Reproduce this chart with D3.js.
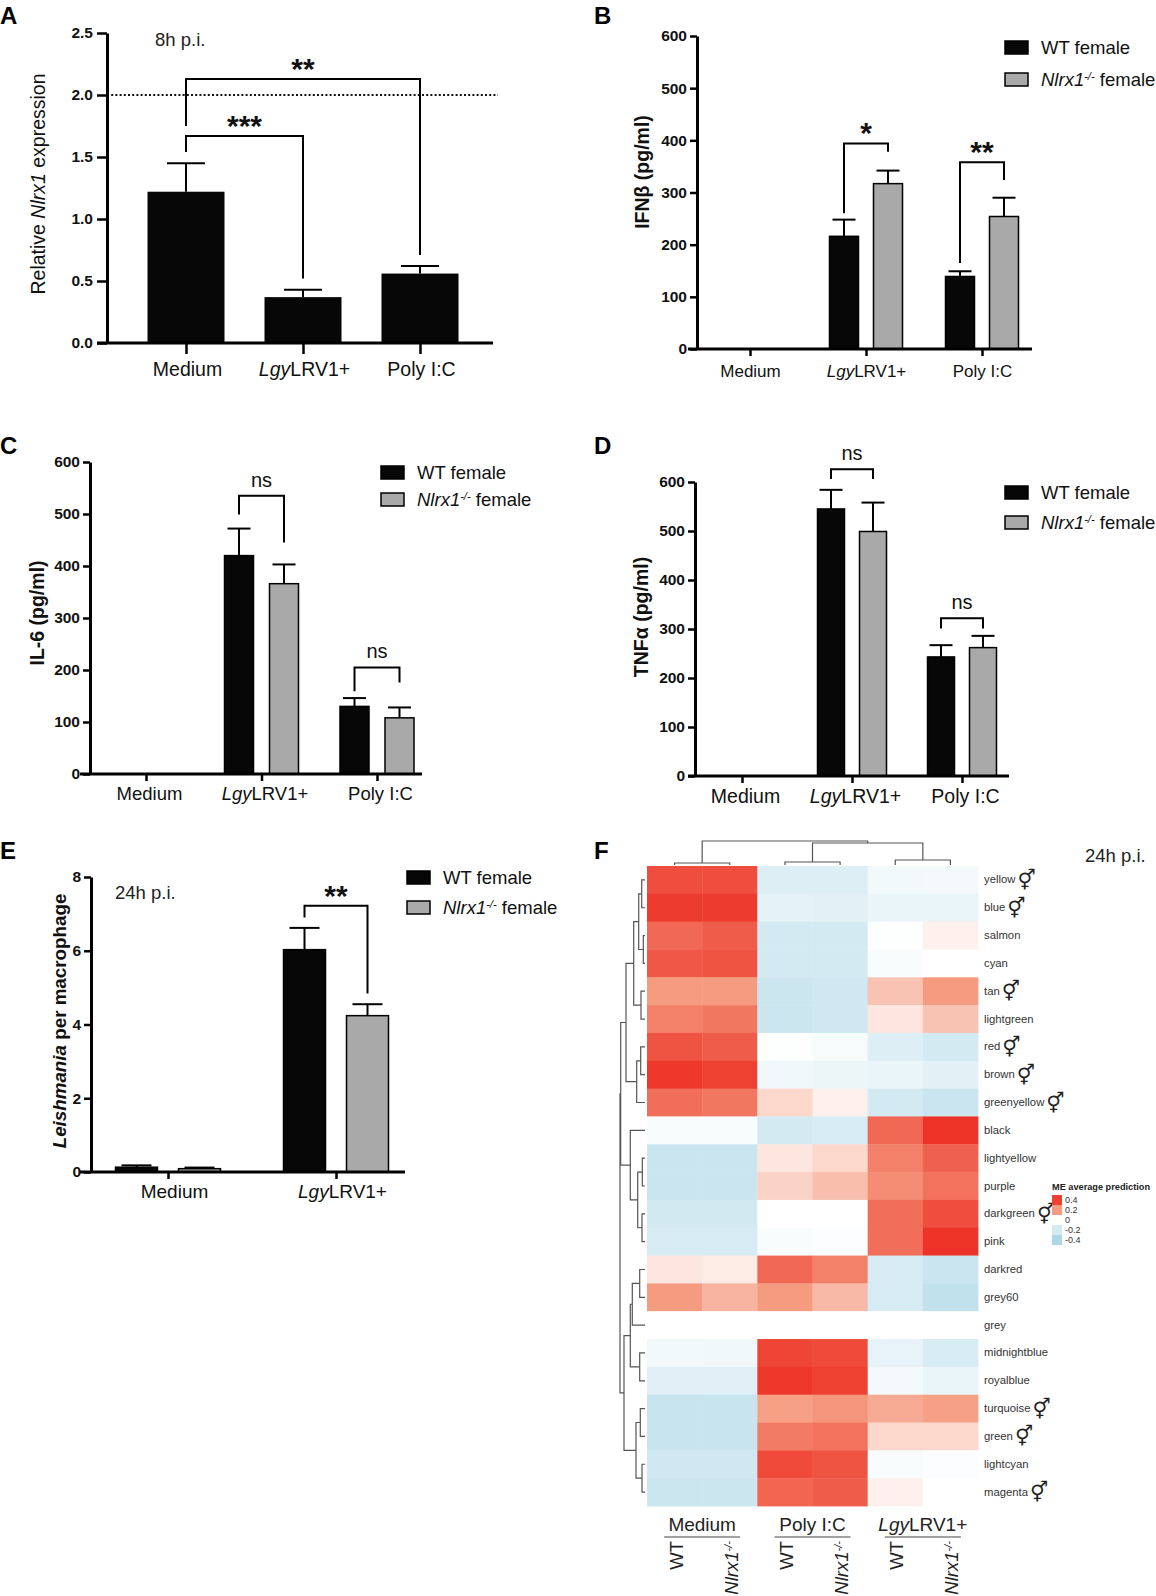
<!DOCTYPE html>
<html>
<head>
<meta charset="utf-8">
<script src="https://cdn.jsdelivr.net/npm/d3@7"></script>
<style>
  body { margin: 0; background: #fff; }
  svg { display: block; }
</style>
</head>
<body>
<div id="chart"></div>
<script>
// ---------- data ----------
// A: relative Nlrx1 expression, 8h p.i.
var groupsA = ['Medium', 'LgyLRV1+', 'Poly I:C'];
var nlrx1Rel = [1.22, 0.37, 0.56];
var nlrx1Sem = [0.23, 0.06, 0.06];
var ticksA = [0, 0.5, 1.0, 1.5, 2.0, 2.5];

// B-D: cytokines (pg/ml)
var groupsCyto = ['Medium', 'LgyLRV1+', 'Poly I:C'];
var ticksCyto = [0, 100, 200, 300, 400, 500, 600];
var ifnbWT = [0, 216, 139];
var ifnbWTsem = [0, 32, 10];
var ifnbKO = [0, 317, 254];
var ifnbKOsem = [0, 25, 36];
var il6WT = [0, 420, 130];
var il6WTsem = [0, 52, 16];
var il6KO = [0, 366, 108];
var il6KOsem = [0, 37, 20];
var tnfWT = [0, 545, 243];
var tnfWTsem = [0, 39, 24];
var tnfKO = [0, 499, 262];
var tnfKOsem = [0, 59, 24];

// E: parasites per macrophage, 24h p.i.
var groupsE = ['Medium', 'LgyLRV1+'];
var ticksE = [0, 2, 4, 6, 8];
var leishWT = [0.13, 6.03];
var leishWTsem = [0.05, 0.59];
var leishKO = [0.09, 4.24];
var leishKOsem = [0.03, 0.31];

// significance brackets (data units)
var sigA = [
    {from: 0, to: 1, top: 1.67, endFrom: 1.54, endTo: 0.52, label: '***'},
    {from: 0, to: 2, top: 2.13, endFrom: 1.75, endTo: 0.71, label: '**'}
];
var sigB = [
    {group: 1, top: 394, endWT: 260, endKO: 378, label: '*'},
    {group: 2, top: 358, endWT: 165, endKO: 324, label: '**'}
];
var sigC = [
    {group: 1, top: 535, endWT: 499, endKO: 445, label: 'ns'},
    {group: 2, top: 205, endWT: 159, endKO: 176, label: 'ns'}
];
var sigD = [
    {group: 1, top: 626, endWT: 606, endKO: 606, label: 'ns'},
    {group: 2, top: 322, endWT: 301, endKO: 301, label: 'ns'}
];
var sigE = [
    {group: 1, top: 7.22, endWT: 6.9, endKO: 4.84, label: '**'}
];

// F: module eigengene average prediction
var modules = ['yellow', 'blue', 'salmon', 'cyan', 'tan', 'lightgreen', 'red', 'brown',
    'greenyellow', 'black', 'lightyellow', 'purple', 'darkgreen', 'pink', 'darkred', 'grey60',
    'grey', 'midnightblue', 'royalblue', 'turquoise', 'green', 'lightcyan', 'magenta'];
var sexModules = ['yellow', 'blue', 'tan', 'red', 'brown', 'greenyellow', 'darkgreen',
    'turquoise', 'green', 'magenta'];
var heatGroups = ['Medium', 'Poly I:C', 'LgyLRV1+'];
var medWT  = [0.37, 0.41, 0.31, 0.35, 0.20, 0.26, 0.36, 0.42, 0.30, -0.03, -0.25, -0.25, -0.21, -0.19, 0.05, 0.20, 0, -0.06, -0.14, -0.26, -0.26, -0.22, -0.24];
var medKO  = [0.37, 0.41, 0.34, 0.36, 0.20, 0.28, 0.34, 0.40, 0.28, -0.03, -0.25, -0.25, -0.21, -0.19, 0.04, 0.15, 0, -0.07, -0.15, -0.26, -0.26, -0.22, -0.24];
var polyWT = [-0.16, -0.12, -0.20, -0.20, -0.24, -0.24, -0.01, -0.07, 0.08, -0.20, 0.05, 0.09, 0.00, -0.03, 0.31, 0.20, 0, 0.39, 0.42, 0.19, 0.27, 0.38, 0.32];
var polyKO = [-0.16, -0.13, -0.20, -0.20, -0.22, -0.22, -0.04, -0.09, 0.03, -0.18, 0.08, 0.13, 0.00, -0.02, 0.26, 0.14, 0, 0.38, 0.40, 0.21, 0.29, 0.36, 0.34];
var lgyWT  = [-0.06, -0.10, -0.01, -0.03, 0.12, 0.05, -0.16, -0.10, -0.20, 0.31, 0.26, 0.23, 0.30, 0.30, -0.19, -0.19, 0, -0.11, -0.05, 0.17, 0.08, -0.03, 0.03];
var lgyKO  = [-0.05, -0.10, 0.03, 0.00, 0.20, 0.12, -0.20, -0.13, -0.25, 0.43, 0.33, 0.29, 0.37, 0.43, -0.25, -0.30, 0, -0.18, -0.10, 0.19, 0.08, -0.02, 0.00];
var legendVals = [0.4, 0.2, 0, -0.2, -0.4];

// clustering trees (leaf = column / row index, h = merge height)
var colTree = {h: 24, c: [{h: 2, c: [0, 1]}, {h: 22, c: [{h: 3, c: [2, 3]}, {h: 5, c: [4, 5]}]}]};
var rowTree = {h: 25, c: [
    {h: 24.3, c: [
        {h: 19, c: [
            {h: 11.3, c: [{h: 6.3, c: [{h: 3.3, c: [0, 1]}, {h: 1.7, c: [2, 3]}]}, {h: 4, c: [4, 5]}]},
            {h: 8.3, c: [{h: 4.3, c: [6, 7]}, 8]}
        ]},
        {h: 14.7, c: [9, {h: 7.3, c: [{h: 2.7, c: [10, 11]}, {h: 3, c: [12, 13]}]}]}
    ]},
    {h: 21, c: [
        {h: 14.7, c: [{h: 12.7, c: [{h: 5.3, c: [14, 15]}, 16]}, {h: 5.3, c: [17, 18]}]},
        {h: 9, c: [{h: 4.7, c: [19, 20]}, {h: 3, c: [21, 22]}]}
    ]}
]};

// ---------- setup ----------
var FONT = '"Liberation Sans", Arial, Helvetica, sans-serif';
var svg = d3.select('#chart').append('svg')
    .attr('width', 1156).attr('height', 1596)
    .attr('font-family', FONT).attr('fill', '#111');
svg.append('rect').attr('width', 1156).attr('height', 1596).attr('fill', '#fff');

function panelLetter(txt, x, y) {
    svg.append('text').attr('x', x).attr('y', y)
        .attr('font-size', 24).attr('font-weight', 'bold').attr('fill', '#000').text(txt);
}

// "Lgy" is written in italics
function addLabel(sel, label) {
    if (label.indexOf('Lgy') === 0) {
        sel.append('tspan').attr('font-style', 'italic').text('Lgy');
        sel.append('tspan').text(label.slice(3));
    } else {
        sel.text(label);
    }
}

// Nlrx1 with superscript -/-
function addKO(sel, rest) {
    sel.append('tspan').attr('font-style', 'italic').text('Nlrx1');
    sel.append('tspan').attr('font-style', 'italic').attr('font-size', '0.6em').attr('dy', '-0.55em').text('-/-');
    if (rest) sel.append('tspan').attr('dy', '0.33em').text(rest);
}

function drawYAxis(g, y, x, ticks, fmt, tick, pad) {
    var ax = g.append('g').attr('transform', 'translate(' + x + ',0)')
        .call(d3.axisLeft(y).tickValues(ticks).tickFormat(fmt)
            .tickSize(tick).tickSizeOuter(0).tickPadding(pad));
    ax.attr('font-family', null).attr('font-size', null);
    ax.select('.domain').attr('stroke', '#000').attr('stroke-width', 3);
    ax.selectAll('.tick line').attr('stroke', '#000').attr('stroke-width', 2.5);
    ax.selectAll('.tick text').attr('font-size', 15.5).attr('font-weight', 'bold').attr('fill', '#111');
}

function drawXAxis(g, x, yPix, ext, fontSize, tick, pad, dx) {
    g.append('line')
        .attr('x1', ext[0]).attr('x2', ext[1]).attr('y1', yPix).attr('y2', yPix)
        .attr('stroke', '#000').attr('stroke-width', 3);
    var ax = g.append('g').attr('transform', 'translate(0,' + yPix + ')')
        .call(d3.axisBottom(x).tickSize(tick).tickSizeOuter(0).tickPadding(pad));
    ax.attr('font-family', null).attr('font-size', null);
    ax.select('.domain').remove();
    ax.selectAll('.tick line').attr('stroke', '#000').attr('stroke-width', 2.5);
    ax.selectAll('.tick text').attr('font-size', fontSize).attr('fill', '#111').attr('dx', dx || 0)
        .each(function(d) {
            var t = d3.select(this);
            t.text(null);
            addLabel(t, d);
        });
}

function errorBar(g, cx, yv, ye, cap) {
    g.append('line').attr('x1', cx).attr('x2', cx).attr('y1', yv).attr('y2', ye)
        .attr('stroke', '#000').attr('stroke-width', 2);
    g.append('line').attr('x1', cx - cap / 2).attr('x2', cx + cap / 2).attr('y1', ye).attr('y2', ye)
        .attr('stroke', '#000').attr('stroke-width', 2);
}

function bracket(g, xa, ya, yTop, xb, yb) {
    g.append('path')
        .attr('d', 'M' + xa + ',' + ya + 'V' + yTop + 'H' + xb + 'V' + yb)
        .attr('fill', 'none').attr('stroke', '#000').attr('stroke-width', 2);
}

function sigText(g, x, yTop, label) {
    var isStar = label.indexOf('*') === 0;
    g.append('text').attr('x', x)
        .attr('y', isStar ? yTop : yTop - 9)
        .attr('text-anchor', 'middle')
        .attr('font-size', isStar ? 30 : 20)
        .attr('font-weight', isStar ? 'bold' : 'normal')
        .attr('fill', '#111')
        .text(label);
}

function yTitle(g, x, y, size, bold, build) {
    var t = g.append('text')
        .attr('transform', 'translate(' + x + ',' + y + ') rotate(-90)')
        .attr('text-anchor', 'middle').attr('font-size', size)
        .attr('font-weight', bold ? 'bold' : 'normal').attr('fill', '#111');
    build(t);
}

function seriesLegend(g, x, tops) {
    var fills = ['#070707', '#a9a9a9'];
    tops.forEach(function(t, i) {
        g.append('rect').attr('x', x).attr('y', t).attr('width', 23).attr('height', 13)
            .attr('fill', fills[i]).attr('stroke', '#000').attr('stroke-width', 1.5);
        var txt = g.append('text').attr('x', x + 36).attr('y', t + 13)
            .attr('font-size', 18.5).attr('fill', '#111');
        if (i === 0) txt.text('WT female');
        else addKO(txt, '\u00a0female');
    });
}

// ---------- panel A ----------
(function() {
    var g = svg.append('g');
    var y = d3.scaleLinear().domain([0, 2.5]).range([343, 33]);
    var x = d3.scalePoint().domain(groupsA).range([186, 420]);
    var bw = 77;

    g.selectAll('rect.bar').data(nlrx1Rel).enter().append('rect')
        .attr('x', function(d, i) { return x(groupsA[i]) - bw / 2; })
        .attr('width', bw)
        .attr('y', function(d) { return y(d); })
        .attr('height', function(d) { return y(0) - y(d); })
        .attr('fill', '#070707');
    nlrx1Rel.forEach(function(v, i) {
        errorBar(g, x(groupsA[i]), y(v), y(v + nlrx1Sem[i]), 38);
    });

    // dotted threshold line
    g.append('line').attr('x1', 107).attr('x2', 498).attr('y1', y(2)).attr('y2', y(2))
        .attr('stroke', '#111').attr('stroke-width', 1.8).attr('stroke-dasharray', '2,2.2');

    drawXAxis(g, x, y(0), [97, 493], 19.5, 11, 8, 1);
    drawYAxis(g, y, 107, ticksA, d3.format('.1f'), 10, 4);

    sigA.forEach(function(b) {
        var xa = x(groupsA[b.from]), xb = x(groupsA[b.to]);
        bracket(g, xa, y(b.endFrom), y(b.top), xb, y(b.endTo));
        sigText(g, (xa + xb) / 2, y(b.top), b.label);
    });

    g.append('text').attr('x', 155).attr('y', 46).attr('font-size', 18.5).attr('fill', '#222').text('8h p.i.');
    yTitle(g, 45, 184, 19.5, false, function(t) {
        t.append('tspan').text('Relative ');
        t.append('tspan').attr('font-style', 'italic').text('Nlrx1');
        t.append('tspan').text(' expression');
    });
    panelLetter('A', 0, 24);
})();

// ---------- grouped panels B-E ----------
function groupedPanel(o) {
    var g = svg.append('g');
    var y = d3.scaleLinear().domain([0, o.max]).range([o.y0, o.y1]);
    var x = d3.scalePoint().domain(o.groups).range(o.centers);
    var sub = d3.scalePoint().domain(['WT', 'KO']).range([-o.off, o.off]);
    var series = [
        {key: 'WT', vals: o.wt, sem: o.wtSem, fill: '#070707'},
        {key: 'KO', vals: o.ko, sem: o.koSem, fill: '#a9a9a9'}
    ];

    series.forEach(function(s) {
        var pts = s.vals.map(function(v, i) {
            return {grp: o.groups[i], v: v, e: s.sem[i]};
        }).filter(function(d) { return d.v > 0; });

        g.selectAll(null).data(pts).enter().append('rect')
            .attr('x', function(d) { return x(d.grp) + sub(s.key) - o.bw / 2; })
            .attr('width', o.bw)
            .attr('y', function(d) { return y(d.v); })
            .attr('height', function(d) { return y(0) - y(d.v); })
            .attr('fill', s.fill).attr('stroke', '#000').attr('stroke-width', 1.5);

        pts.forEach(function(d) {
            errorBar(g, x(d.grp) + sub(s.key), y(d.v), y(d.v + d.e), o.cap);
        });
    });

    drawXAxis(g, x, y(0), o.axisExt, o.xFont, 7, o.xPad, o.xDx);
    drawYAxis(g, y, o.yAxisX, o.ticks, d3.format('d'), 7, 3);

    o.sig.forEach(function(b) {
        var c = x(o.groups[b.group]);
        bracket(g, c + sub('WT'), y(b.endWT), y(b.top), c + sub('KO'), y(b.endKO));
        sigText(g, c, y(b.top), b.label);
    });

    seriesLegend(g, o.legX, o.legTops);
    yTitle(g, o.titleX, o.titleY, o.titleSize, true, o.title);
    return g;
}

groupedPanel({
    groups: groupsCyto, wt: ifnbWT, wtSem: ifnbWTsem, ko: ifnbKO, koSem: ifnbKOsem,
    max: 600, ticks: ticksCyto, y0: 349, y1: 36, yAxisX: 697,
    centers: [750, 982], off: 22, bw: 29, cap: 23, axisExt: [688, 1032],
    xFont: 17, xPad: 9, xDx: 0, sig: sigB, legX: 1005, legTops: [41, 73],
    titleX: 649, titleY: 172, titleSize: 19.5,
    title: function(t) { t.text('IFN\u03b2 (pg/ml)'); }
});
panelLetter('B', 594, 24);

groupedPanel({
    groups: groupsCyto, wt: il6WT, wtSem: il6WTsem, ko: il6KO, koSem: il6KOsem,
    max: 600, ticks: ticksCyto, y0: 774, y1: 462, yAxisX: 90,
    centers: [146, 377], off: 22.5, bw: 29, cap: 23, axisExt: [80, 422],
    xFont: 18.5, xPad: 6, xDx: 3, sig: sigC, legX: 381, legTops: [466, 493],
    titleX: 44, titleY: 613, titleSize: 19.5,
    title: function(t) { t.text('IL-6 (pg/ml)'); }
});
panelLetter('C', 0, 454);

groupedPanel({
    groups: groupsCyto, wt: tnfWT, wtSem: tnfWTsem, ko: tnfKO, koSem: tnfKOsem,
    max: 600, ticks: ticksCyto, y0: 776, y1: 482, yAxisX: 695,
    centers: [742, 962], off: 21, bw: 27, cap: 23, axisExt: [688, 1009],
    xFont: 19.5, xPad: 6, xDx: 3, sig: sigD, legX: 1005, legTops: [486, 516],
    titleX: 648, titleY: 617, titleSize: 19.5,
    title: function(t) { t.text('TNF\u03b1 (pg/ml)'); }
});
panelLetter('D', 594, 454);

var gE = groupedPanel({
    groups: groupsE, wt: leishWT, wtSem: leishWTsem, ko: leishKO, koSem: leishKOsem,
    max: 8, ticks: ticksE, y0: 1172, y1: 877, yAxisX: 91,
    centers: [168, 336], off: 31.5, bw: 42, cap: 30, axisExt: [80, 405],
    xFont: 19, xPad: 6, xDx: 6, sig: sigE, legX: 407, legTops: [871, 901],
    titleX: 66, titleY: 1021, titleSize: 18.8,
    title: function(t) {
        t.append('tspan').attr('font-style', 'italic').text('Leishmania');
        t.append('tspan').text(' per macrophage');
    }
});
gE.append('text').attr('x', 115).attr('y', 899).attr('font-size', 18.5).attr('fill', '#222').text('24h p.i.');
panelLetter('E', 0, 859);

// ---------- panel F: heatmap ----------
(function() {
    var g = svg.append('g');
    var cols = [medWT, medKO, polyWT, polyKO, lgyWT, lgyKO];
    var hx = d3.scaleBand().domain(d3.range(cols.length)).range([647, 978]);
    var hy = d3.scaleBand().domain(modules).range([866, 1506]);
    var color = d3.scaleLinear()
        .domain([-0.45, -0.2, 0, 0.2, 0.45])
        .range(['#a4d3e4', '#d4eaf2', '#ffffff', '#f59b80', '#ec2a1f'])
        .clamp(true);

    var cells = [];
    modules.forEach(function(m, r) {
        cols.forEach(function(c, j) { cells.push({m: m, j: j, v: c[r]}); });
    });
    g.selectAll('rect.cell').data(cells).enter().append('rect')
        .attr('x', function(d) { return hx(d.j); })
        .attr('y', function(d) { return hy(d.m); })
        .attr('width', hx.bandwidth() + 0.4)
        .attr('height', hy.bandwidth() + 0.4)
        .attr('fill', function(d) { return color(d.v); });

    // row labels + sex-linked marker
    modules.forEach(function(m) {
        var cy = hy(m) + hy.bandwidth() / 2;
        var t = g.append('text').attr('x', 984).attr('y', cy + 3.5)
            .attr('font-size', 11.3).attr('fill', '#333').text(m);
        if (sexModules.indexOf(m) >= 0) {
            var w = t.node().getComputedTextLength();
            g.append('text').attr('x', 984 + w + 2).attr('y', cy + 7)
                .attr('font-family', '"DejaVu Sans", sans-serif')
                .attr('font-size', 20).attr('fill', '#222').text('\u26a5');
        }
    });

    // dendrograms
    function dendro(node, pos, hs, vertical) {
        if (typeof node === 'number') return {p: pos(node), h: 0};
        var a = dendro(node.c[0], pos, hs, vertical);
        var b = dendro(node.c[1], pos, hs, vertical);
        var d = vertical
            ? 'M' + a.p + ',' + hs(a.h) + 'V' + hs(node.h) + 'H' + b.p + 'V' + hs(b.h)
            : 'M' + hs(a.h) + ',' + a.p + 'H' + hs(node.h) + 'V' + b.p + 'H' + hs(b.h);
        g.append('path').attr('d', d).attr('fill', 'none')
            .attr('stroke', '#555').attr('stroke-width', 1.2);
        return {p: (a.p + b.p) / 2, h: node.h};
    }
    var colH = d3.scaleLinear().domain([0, 24]).range([865, 841]);
    dendro(colTree, function(j) { return hx(j) + hx.bandwidth() / 2; }, colH, true);
    var rowH = d3.scaleLinear().domain([0, 25]).range([645, 620]);
    dendro(rowTree, function(r) { return hy(modules[r]) + hy.bandwidth() / 2; }, rowH, false);

    // column annotations
    heatGroups.forEach(function(name, k) {
        var c = hx(2 * k + 1);
        var t = g.append('text').attr('x', c).attr('y', 1531).attr('text-anchor', 'middle')
            .attr('font-size', 19).attr('fill', '#222');
        addLabel(t, name);
        g.append('line').attr('x1', c - 38).attr('x2', c + 38).attr('y1', 1537).attr('y2', 1537)
            .attr('stroke', '#444').attr('stroke-width', 1);
    });
    d3.range(cols.length).forEach(function(j) {
        var cx = hx(j) + hx.bandwidth() / 2 + 8;
        var t = g.append('text')
            .attr('transform', 'translate(' + cx + ',1541) rotate(-90)')
            .attr('text-anchor', 'end').attr('font-size', 18.5).attr('fill', '#222');
        if (j % 2 === 0) t.text('WT');
        else addKO(t, null);
    });

    // colour key
    g.append('text').attr('x', 1052).attr('y', 1190).attr('font-size', 9.2)
        .attr('font-weight', 'bold').attr('fill', '#222').text('ME average prediction');
    legendVals.forEach(function(v, i) {
        g.append('rect').attr('x', 1052).attr('y', 1195 + i * 10).attr('width', 10).attr('height', 10)
            .attr('fill', color(v));
        g.append('text').attr('x', 1065).attr('y', 1195 + i * 10 + 8).attr('font-size', 9)
            .attr('fill', '#333').text(String(v));
    });

    g.append('text').attr('x', 1085).attr('y', 862).attr('font-size', 18.5).attr('fill', '#222').text('24h p.i.');
    panelLetter('F', 594, 859);
})();
</script>
</body>
</html>
